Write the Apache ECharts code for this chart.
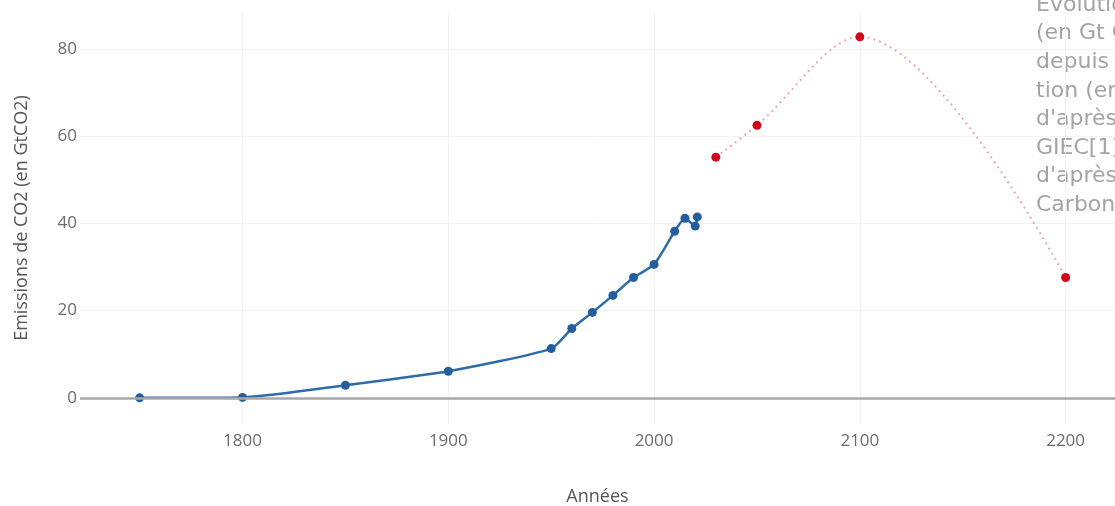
<!DOCTYPE html>
<html>
<head>
<meta charset="utf-8">
<script src="https://cdn.jsdelivr.net/npm/echarts@6/dist/echarts.min.js"></script>
<style>
  html, body { margin: 0; padding: 0; background: #fff; }
  #main { width: 1115px; height: 506px; }
</style>
</head>
<body>
<div id="main"></div>
<script>
// historique (bleu)
var histYears = [1750, 1800, 1850, 1900, 1950, 1960, 1970, 1980, 1990, 2000, 2010, 2015, 2020, 2021]
var histValues = [0, 0.1, 2.9, 6.1, 11.3, 15.9, 19.6, 23.5, 27.6, 30.6, 38.2, 41.2, 39.4, 41.5]

// projections GIEC (rouge)
var projYears = [2030, 2050, 2100, 2200]
var projValues = [55.2, 62.5, 82.8, 27.6]

var captionLines = [
  'Évolution des émissions',
  '(en Gt CO2) de CO2',
  'depuis la révolu-',
  'tion (en bleu)',
  "d'après le",
  'GIEC[1] (en rouge)',
  "d'après Global",
  'Carbon Project'
]

var chartDom = document.getElementById('main')
var myChart = echarts.init(chartDom)

var tickFont = { color: '#6b6b6b', fontSize: 17, fontFamily: 'Open Sans' }

var option = {
  animation: false,
  backgroundColor: '#ffffff',
  grid: { left: 80, right: 0, top: 12, bottom: 82, outerBoundsMode: 'none', containLabel: false },
  xAxis: {
    type: 'value',
    min: 1721,
    max: 2224,
    splitNumber: 5,
    name: 'Années',
    nameLocation: 'middle',
    nameGap: 64,
    nameTextStyle: { color: '#555', fontSize: 18, fontFamily: 'Open Sans' },
    axisLine: { show: false },
    axisTick: { show: false },
    axisLabel: Object.assign({
      margin: 9, showMinLabel: false, showMaxLabel: false,
      formatter: function (v) { return String(v) }
    }, tickFont),
    splitLine: { show: true, showMinLine: false, showMaxLine: false, lineStyle: { color: '#f2f2f2', width: 1 } }
  },
  yAxis: {
    type: 'value',
    min: -6,
    max: 88.5,
    splitNumber: 5,
    name: 'Emissions de CO2 (en GtCO2)',
    nameLocation: 'middle',
    nameGap: 49,
    nameTextStyle: { color: '#555', fontSize: 18, fontFamily: 'Open Sans' },
    axisLine: { show: false },
    axisTick: { show: false },
    axisLabel: Object.assign({ margin: 3, showMinLabel: false, showMaxLabel: false }, tickFont),
    splitLine: { show: true, showMinLine: false, showMaxLine: false, lineStyle: { color: '#f2f2f2', width: 1 } }
  },
  graphic: captionLines.map(function (t, i) {
    return {
      type: 'text',
      left: 1036,
      top: -6 + i * 28.6,
      silent: true,
      style: { text: t, fill: '#a4a4a4', fontSize: 22, fontFamily: 'DejaVu Sans' }
    }
  }),
  series: [
    {
      type: 'line',
      data: histYears.map(function (y, i) { return [y, histValues[i]] }),
      smooth: 0.2,
      symbol: 'circle',
      symbolSize: 9,
      itemStyle: { color: '#245f9c' },
      lineStyle: { color: '#2d6ca8', width: 2.5 },
      z: 3,
      markLine: {
        silent: true,
        symbol: 'none',
        label: { show: false },
        lineStyle: { color: '#a8a8a8', width: 2.5, type: 'solid' },
        data: [{ yAxis: 0 }]
      }
    },
    {
      type: 'line',
      data: projYears.map(function (y, i) { return [y, projValues[i]] }),
      smooth: 0.35,
      symbol: 'circle',
      symbolSize: 9,
      itemStyle: { color: '#d0061d' },
      lineStyle: { color: '#eea7ae', width: 2, type: [2, 4] },
      z: 4
    }
  ]
}

option && myChart.setOption(option)
</script>
</body>
</html>
